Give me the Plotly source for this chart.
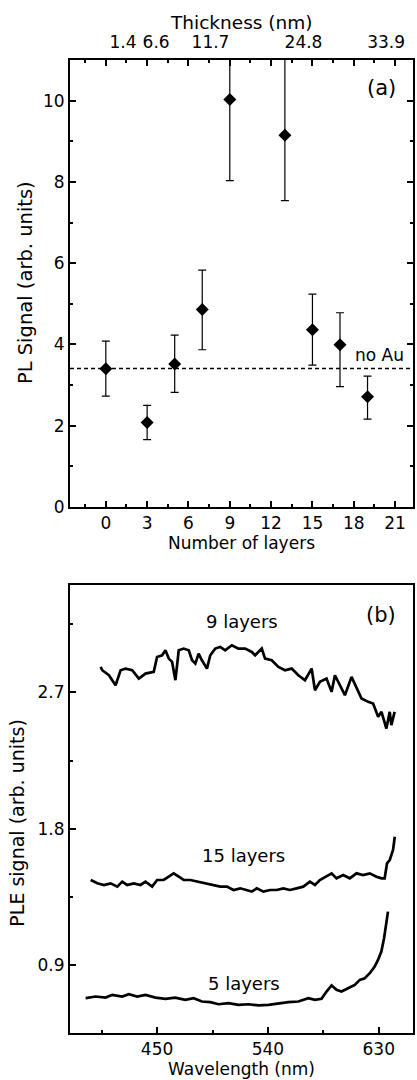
import plotly.graph_objects as go

# ---------------- Panel (a) data ----------------
layers = [0, 3, 5, 7, 9, 13, 15, 17, 19]
pl_signal = [3.40, 2.08, 3.52, 4.86, 10.03, 9.15, 4.36, 3.99, 2.71]
pl_upper = [4.08, 2.50, 4.23, 5.83, 12.03, 11.60, 5.24, 4.78, 3.22]
pl_lower = [2.73, 1.66, 2.82, 3.87, 8.03, 7.54, 3.49, 2.96, 2.16]
no_au_level = 3.41
layer_ticks = [0, 3, 6, 9, 12, 15, 18, 21]
pl_ticks = [0, 2, 4, 6, 8, 10]
thickness_labels = ["1.4", "6.6", "11.7", "24.8", "33.9"]
thickness_label_layers = [1.25, 3.65, 7.6, 14.35, 20.35]

# ---------------- Panel (b) data ----------------
wl_9 = [404.2, 405.5, 410.9, 416.3, 420.4, 424.4, 429.8, 435.2, 440.6, 447.3,
        450.0, 454.1, 456.8, 459.5, 462.2, 464.9, 467.6, 471.6, 475.7, 478.4,
        481.1, 483.7, 486.4, 490.5, 493.2, 497.2, 501.3, 505.3, 510.7, 516.1,
        521.5, 526.9, 529.6, 535.0, 537.7, 543.1, 548.5, 553.9, 559.3, 564.7,
        570.1, 575.5, 578.2, 582.2, 587.6, 591.7, 594.4, 598.4, 602.5, 607.9,
        611.9, 616.0, 621.4, 625.4, 629.5, 632.2, 636.2, 638.9, 640.2, 642.9]
ple_9 = [2.869, 2.847, 2.814, 2.748, 2.847, 2.858, 2.847, 2.792, 2.825, 2.836,
         2.935, 2.946, 2.979, 2.924, 2.902, 2.781, 2.979, 2.990, 2.979, 2.913,
         2.891, 2.957, 2.913, 2.858, 2.946, 2.990, 3.001, 2.979, 3.012, 2.990,
         2.990, 2.968, 2.946, 2.990, 2.924, 2.913, 2.869, 2.847, 2.858, 2.814,
         2.781, 2.858, 2.715, 2.770, 2.792, 2.704, 2.814, 2.748, 2.682, 2.803,
         2.737, 2.660, 2.638, 2.627, 2.539, 2.572, 2.462, 2.572, 2.484, 2.572]

wl_15 = [396.1, 401.5, 406.9, 412.3, 417.7, 421.7, 425.7, 431.1, 436.5, 440.6,
         446.0, 450.0, 455.4, 459.5, 463.5, 467.6, 471.6, 477.0, 483.7, 490.5,
         495.9, 501.3, 506.7, 512.1, 517.5, 522.9, 526.9, 531.0, 536.4, 541.8,
         547.1, 552.5, 557.9, 563.3, 568.7, 574.1, 578.2, 582.2, 587.6, 591.7,
         595.7, 601.1, 606.5, 611.9, 617.3, 622.7, 628.1, 632.2, 634.8, 636.7,
         638.9, 641.6, 643.0]
ple_15 = [1.461, 1.439, 1.428, 1.439, 1.417, 1.450, 1.428, 1.439, 1.428, 1.450,
          1.417, 1.461, 1.461, 1.483, 1.505, 1.483, 1.461, 1.461, 1.450, 1.439,
          1.428, 1.417, 1.417, 1.395, 1.406, 1.395, 1.384, 1.406, 1.384, 1.395,
          1.395, 1.406, 1.395, 1.406, 1.417, 1.450, 1.428, 1.461, 1.483, 1.505,
          1.472, 1.494, 1.472, 1.505, 1.494, 1.505, 1.483, 1.472, 1.472, 1.571,
          1.593, 1.659, 1.747]

wl_5 = [392.0, 400.1, 408.2, 413.6, 421.7, 427.1, 433.8, 440.6, 448.7, 456.8,
        464.8, 472.9, 479.7, 486.4, 493.2, 499.9, 508.0, 516.1, 524.2, 532.3,
        540.4, 548.5, 556.6, 564.7, 572.8, 578.2, 583.5, 587.6, 591.7, 595.7,
        599.7, 605.1, 610.5, 614.6, 618.6, 622.7, 626.7, 629.4, 632.1, 634.3,
        636.2, 637.5]
ple_5 = [0.680, 0.691, 0.684, 0.702, 0.691, 0.706, 0.691, 0.702, 0.684, 0.676,
         0.684, 0.669, 0.680, 0.658, 0.654, 0.640, 0.647, 0.636, 0.640, 0.632,
         0.636, 0.647, 0.654, 0.658, 0.680, 0.669, 0.676, 0.724, 0.764, 0.735,
         0.724, 0.746, 0.768, 0.801, 0.812, 0.845, 0.889, 0.933, 0.988, 1.076,
         1.164, 1.252]
wl_ticks = [450, 540, 630]
ple_ticks = [0.9, 1.8, 2.7]

FONT = "DejaVu Sans"

fig = go.Figure()

fig.add_trace(go.Scatter(
    x=layers, y=pl_signal, mode="markers",
    marker=dict(symbol="diamond", size=10, color="black"),
    error_y=dict(type="data", symmetric=False,
                 array=[u - s for u, s in zip(pl_upper, pl_signal)],
                 arrayminus=[s - l for s, l in zip(pl_signal, pl_lower)],
                 color="black", thickness=1.2, width=4),
    xaxis="x", yaxis="y", showlegend=False, hoverinfo="skip"))

# invisible trace so the top (thickness) axis is drawn
fig.add_trace(go.Scatter(x=thickness_label_layers, y=[None] * len(thickness_label_layers),
                         mode="markers", marker=dict(opacity=0),
                         xaxis="x2", yaxis="y", showlegend=False, hoverinfo="skip"))

for wl, ple in [(wl_9, ple_9), (wl_15, ple_15), (wl_5, ple_5)]:
    fig.add_trace(go.Scatter(x=wl, y=ple, mode="lines",
                             line=dict(color="black", width=2.7),
                             xaxis="x3", yaxis="y3", showlegend=False, hoverinfo="skip"))

fig.add_shape(type="line", xref="x domain", x0=0, x1=1, yref="y",
              y0=no_au_level, y1=no_au_level,
              line=dict(color="black", width=1.5, dash="4px,3px"))

axis_common = dict(showline=True, linecolor="black", linewidth=2, showgrid=False,
                   zeroline=False, ticks="inside", tickcolor="black", tickwidth=1.5,
                   ticklen=6, tickfont=dict(family=FONT, size=17, color="black"))

fig.update_layout(
    width=417, height=1080,
    margin=dict(l=70, r=2, t=60, b=47),
    paper_bgcolor="white", plot_bgcolor="white",
    font=dict(family=FONT, size=17, color="black"),
    showlegend=False,
    xaxis=dict(**axis_common, domain=[0, 1], anchor="y", range=[-2.6, 22.3],
               tickvals=layer_ticks, mirror="ticks",
               minor=dict(ticks="inside", ticklen=3, tickwidth=1.5, tickcolor="black",
                          dtick=1.5, tick0=0),
               title=dict(text="Number of layers", font=dict(family=FONT, size=17),
                          standoff=2)),
    yaxis=dict(**axis_common, domain=[0.5406, 1], anchor="x", range=[0, 11],
               tickvals=pl_ticks, mirror="ticks",
               minor=dict(ticks="inside", ticklen=3, tickwidth=1.5, tickcolor="black",
                          dtick=1, tick0=0)),
    xaxis2=dict(overlaying="x", anchor="y", side="top", range=[-2.6, 22.3],
                tickvals=thickness_label_layers, ticktext=thickness_labels,
                ticks="outside", ticklen=4, tickcolor="rgba(0,0,0,0)",
                showline=False, showgrid=False, zeroline=False,
                tickfont=dict(family=FONT, size=17, color="black")),
    xaxis3=dict(**axis_common, domain=[0, 1], anchor="y3", range=[379.3, 657.8],
                tickvals=wl_ticks, mirror=True,
                minor=dict(ticks="inside", ticklen=3, tickwidth=1.5, tickcolor="black",
                           dtick=45, tick0=0),
                title=dict(text="Wavelength (nm)", font=dict(family=FONT, size=17),
                           standoff=2)),
    yaxis3=dict(**axis_common, domain=[0, 0.4604], anchor="x3", range=[0.45, 3.41],
                tickvals=ple_ticks, ticktext=[f"{v:.1f}" for v in ple_ticks], mirror=True,
                minor=dict(ticks="inside", ticklen=3, tickwidth=1.5, tickcolor="black",
                           dtick=0.45, tick0=0)),
)

ann = [
    dict(text="(a)", xref="x domain", yref="y domain", x=0.907, y=0.937, size=21),
    dict(text="no Au", xref="x domain", yref="y domain", x=0.901, y=0.340, size=17),
    dict(text="(b)", xref="x3 domain", yref="y3 domain", x=0.907, y=0.933, size=21),
    dict(text="9 layers", xref="x3 domain", yref="y3 domain", x=0.501, y=0.918, size=18),
    dict(text="15 layers", xref="x3 domain", yref="y3 domain", x=0.507, y=0.397, size=18),
    dict(text="5 layers", xref="x3 domain", yref="y3 domain", x=0.507, y=0.111, size=18),
]
for a in ann:
    fig.add_annotation(text=a["text"], xref=a["xref"], yref=a["yref"], x=a["x"], y=a["y"],
                       xanchor="center", yanchor="middle", showarrow=False,
                       font=dict(family=FONT, size=a["size"], color="black"))

fig.add_annotation(text="Thickness (nm)", xref="paper", yref="paper",
                   x=0.5, y=1.039, xanchor="center", yanchor="middle",
                   showarrow=False, font=dict(family=FONT, size=18.5, color="black"))
fig.add_annotation(text="PL Signal (arb. units)", xref="paper", yref="paper",
                   x=-0.1275, y=0.771, textangle=-90, xanchor="center", yanchor="middle",
                   showarrow=False, font=dict(family=FONT, size=19.5, color="black"))
fig.add_annotation(text="PLE signal (arb. units)", xref="paper", yref="paper",
                   x=-0.155, y=0.216, textangle=-90, xanchor="center", yanchor="middle",
                   showarrow=False, font=dict(family=FONT, size=19, color="black"))

fig.write_html("out.html",
               config={"displayModeBar": False},
               post_script="document.body.style.margin='0';"
                           "document.body.style.overflow='hidden';")
